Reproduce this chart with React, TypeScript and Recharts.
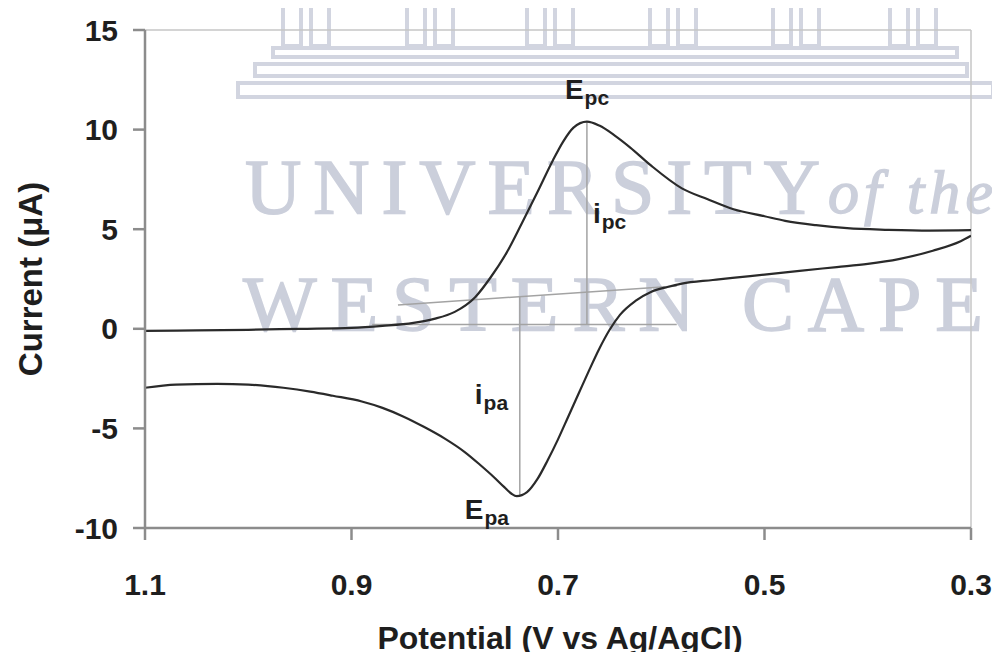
import { LineChart, Line, XAxis, YAxis, ReferenceLine, ReferenceDot } from 'recharts'

const W = 1000
const H = 660
const FONT = '"Liberation Sans", Arial, sans-serif'
const AXIS_GRAY = '#8c8c8c'
const ANNOT_GRAY = '#a3a3a3'
const CURVE = '#2a2a2a'
const WATERMARK = '#cbcfdb'

const potentialTicks = [1.1, 0.9, 0.7, 0.5, 0.3]
const currentTicks = [-10, -5, 0, 5, 10, 15]

// forward sweep (upper branch), listed from 1.1 V towards 0.3 V
const forwardPotential = [
  1.1, 1.05, 1.0, 0.95, 0.9, 0.87, 0.84, 0.82, 0.8, 0.78, 0.765, 0.75, 0.735, 0.72,
  0.705, 0.695, 0.685, 0.672, 0.66, 0.645, 0.63, 0.61, 0.58, 0.555, 0.53, 0.5, 0.48,
  0.45, 0.42, 0.38, 0.34, 0.3,
]
const forwardCurrent = [
  -0.1, -0.08, -0.05, 0.0, 0.05, 0.15, 0.3, 0.5, 0.85, 1.6, 2.6, 3.8, 5.3, 6.85,
  8.45, 9.4, 10.1, 10.4, 10.2, 9.7, 9.1, 8.2, 7.05, 6.5, 6.0, 5.65, 5.42,
  5.2, 5.05, 4.97, 4.93, 4.95,
]

// reverse sweep (lower branch), also listed from 1.1 V towards 0.3 V
const reversePotential = [
  1.1, 1.07, 1.03, 1.0, 0.966, 0.94, 0.918, 0.89, 0.87, 0.85, 0.83, 0.81, 0.79, 0.775,
  0.762, 0.752, 0.745, 0.74, 0.73, 0.72, 0.71, 0.7, 0.69, 0.68, 0.67, 0.66, 0.65, 0.64,
  0.625, 0.61, 0.594, 0.58, 0.55, 0.531, 0.5, 0.466, 0.43, 0.4, 0.37, 0.337, 0.31, 0.3,
]
const reverseCurrent = [
  -2.96, -2.8, -2.76, -2.8, -2.96, -3.15, -3.36, -3.65, -3.97, -4.4, -4.92, -5.5, -6.2, -6.85,
  -7.45, -7.95, -8.28, -8.4, -8.2, -7.55, -6.6, -5.55, -4.4, -3.25, -2.1, -1.0, -0.05, 0.7,
  1.4, 1.85, 2.1, 2.27, 2.45, 2.56, 2.72, 2.91, 3.1, 3.26, 3.5, 3.92, 4.4, 4.67,
]

const forwardData = forwardPotential.map((v, i) => ({ v, i: forwardCurrent[i] }))
const reverseData = reversePotential.map((v, i) => ({ v, i: reverseCurrent[i] }))

// peak construction lines
const cathodicBaseline = [{ x: 0.88, y: 0.22 }, { x: 0.585, y: 0.22 }]
const anodicBaseline = [{ x: 0.855, y: 1.2 }, { x: 0.585, y: 2.15 }]
const ipcLine = [{ x: 0.672, y: 0.22 }, { x: 0.672, y: 10.4 }]
const ipaLine = [{ x: 0.737, y: 1.62 }, { x: 0.737, y: -8.4 }]

function PeakLabel(props: any) {
  const vb = props.viewBox ?? { x: 0, y: 0, width: 0, height: 0 }
  const x = vb.x + (vb.width || 0) / 2 + props.dx
  const y = vb.y + (vb.height || 0) / 2 + props.dy
  return (
    <text x={x} y={y} fill="#1e1e1e" fontFamily={FONT} fontWeight="bold" fontSize={28}>
      <tspan>{props.main}</tspan>
      <tspan fontSize={21} dx={1} dy={6}>{props.sub}</tspan>
    </text>
  )
}

function YTitle(props: any) {
  const vb = props.viewBox
  const x = vb.x - 18
  const y = vb.y + vb.height / 2
  return (
    <text x={x} y={y} transform={`rotate(-90 ${x} ${y})`} textAnchor="middle"
      fill="#1e1e1e" fontFamily={FONT} fontWeight="bold" fontSize={33}>
      Current (μA)
    </text>
  )
}

function XTitle(props: any) {
  const vb = props.viewBox
  return (
    <text x={vb.x + vb.width / 2 + 2} y={vb.y + 121} textAnchor="middle"
      fill="#1e1e1e" fontFamily={FONT} fontWeight="bold" fontSize={32}>
      Potential (V vs Ag/AgCl)
    </text>
  )
}

// faint "University of the Western Cape" watermark behind the plot
function Watermark() {
  const groups = [283, 407, 527, 650, 773, 890]
  return (
    <svg width={W} height={H} style={{ position: 'absolute', left: 0, top: 0 }}>
      {groups.map(gx => (
        <g key={gx} stroke="#d2d5e0" strokeWidth={4} fill="none">
          <rect x={gx} y={-4} width={18} height={50} />
          <rect x={gx + 28} y={-4} width={18} height={50} />
        </g>
      ))}
      <g stroke="#d2d5e0" strokeWidth={4} fill="#fff">
        <rect x={273} y={48} width={684} height={9} />
        <rect x={255} y={64} width={712} height={12} />
        <rect x={238} y={83} width={755} height={14} />
      </g>
      <g fill={WATERMARK} stroke={WATERMARK} strokeWidth={1.5} fontFamily='"Liberation Serif", serif'>
        <text x={245} y={213} textLength={575} lengthAdjust="spacing" fontSize={78}>UNIVERSITY</text>
        <text x={828} y={213} textLength={165} lengthAdjust="spacing" fontStyle="italic" fontSize={62}>of the</text>
        <text x={243} y={330} textLength={740} lengthAdjust="spacing" fontSize={78}>WESTERN CAPE</text>
      </g>
    </svg>
  )
}

export default function App() {
  return (
    <div style={{ position: 'relative', width: W, height: H, margin: -8, background: '#fff' }}>
      <Watermark />
      <div style={{ position: 'absolute', left: 0, top: 0 }}>
        <LineChart width={W} height={H} margin={{ top: 30, right: 29, bottom: 52, left: 60 }}>
          <XAxis
            dataKey="v"
            type="number"
            domain={[0.3, 1.1]}
            reversed
            ticks={potentialTicks}
            tickFormatter={(t: number) => t.toFixed(1)}
            allowDataOverflow
            height={80}
            tickSize={12}
            tickMargin={34}
            axisLine={{ stroke: AXIS_GRAY, strokeWidth: 2.5 }}
            tickLine={{ stroke: AXIS_GRAY, strokeWidth: 2.5 }}
            tick={{ fill: '#1e1e1e', fontSize: 30, fontWeight: 'bold', fontFamily: FONT }}
            label={<XTitle />}
          />
          <YAxis
            type="number"
            domain={[-10, 15]}
            ticks={currentTicks}
            allowDataOverflow
            width={85}
            tickSize={12}
            tickMargin={15}
            axisLine={{ stroke: AXIS_GRAY, strokeWidth: 2.5 }}
            tickLine={{ stroke: AXIS_GRAY, strokeWidth: 2.5 }}
            tick={{ fill: '#1e1e1e', fontSize: 30, fontWeight: 'bold', fontFamily: FONT }}
            label={<YTitle />}
          />
          <ReferenceLine y={15} stroke="#c6c6c6" strokeWidth={1.5} />
          <ReferenceLine x={0.3} stroke="#c6c6c6" strokeWidth={1.5} />
          <ReferenceLine segment={cathodicBaseline} stroke={ANNOT_GRAY} strokeWidth={1.5} />
          <ReferenceLine segment={anodicBaseline} stroke={ANNOT_GRAY} strokeWidth={1.5} />
          <ReferenceLine segment={ipcLine} stroke={ANNOT_GRAY} strokeWidth={1.5} />
          <ReferenceLine segment={ipaLine} stroke={ANNOT_GRAY} strokeWidth={1.5} />
          <Line data={forwardData} dataKey="i" type="monotone" stroke={CURVE} strokeWidth={2.2}
            dot={false} isAnimationActive={false} />
          <Line data={reverseData} dataKey="i" type="monotone" stroke={CURVE} strokeWidth={2.2}
            dot={false} isAnimationActive={false} />
          <ReferenceDot x={0.672} y={10.4} r={0} fill="none" stroke="none"
            label={<PeakLabel main="E" sub="pc" dx={-22} dy={-23} />} />
          <ReferenceDot x={0.672} y={5.3} r={0} fill="none" stroke="none"
            label={<PeakLabel main="i" sub="pc" dx={6} dy={0} />} />
          <ReferenceDot x={0.737} y={-3.8} r={0} fill="none" stroke="none"
            label={<PeakLabel main="i" sub="pa" dx={-45} dy={0} />} />
          <ReferenceDot x={0.74} y={-8.4} r={0} fill="none" stroke="none"
            label={<PeakLabel main="E" sub="pa" dx={-52} dy={23} />} />
        </LineChart>
      </div>
    </div>
  )
}
